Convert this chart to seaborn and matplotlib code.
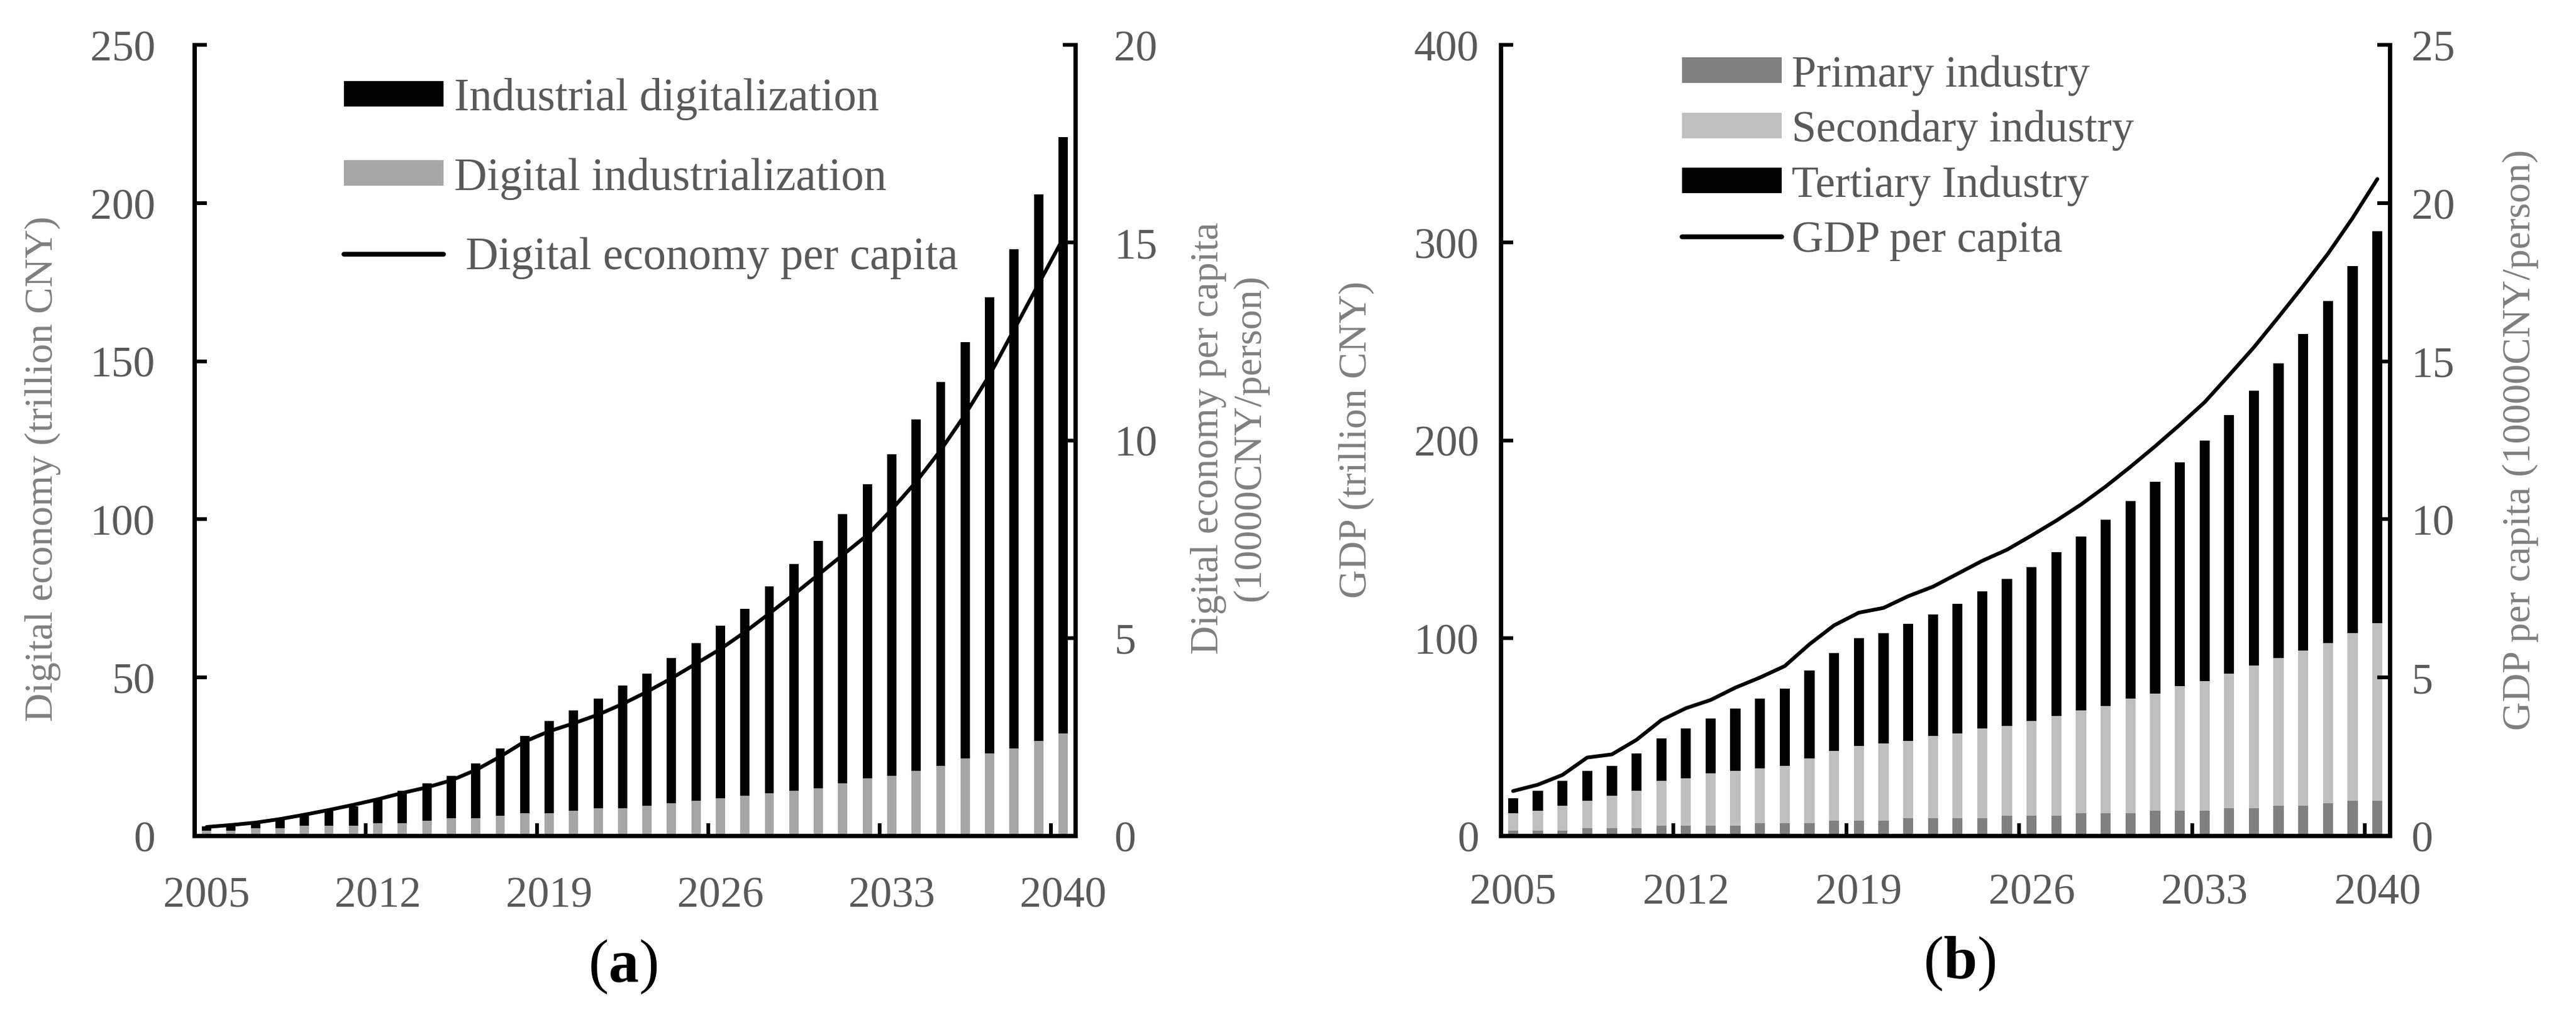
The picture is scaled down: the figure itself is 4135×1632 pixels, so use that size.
import numpy as np
import matplotlib.pyplot as plt
import seaborn as sns
from matplotlib.patches import Patch
from matplotlib.lines import Line2D
from matplotlib.ticker import FixedLocator

# Data
years = list(range(2005, 2041))

# (a) digital economy, trillion CNY
digital_industrialization = [1.5, 1.5, 2.3, 2.3, 3.1, 3.1, 3.1, 3.9, 3.9, 4.7, 5.5, 5.5,
                             6.3, 7.1, 7.1, 7.9, 8.7, 8.7, 9.5, 10.3, 11.1, 11.8, 12.6, 13.4,
                             14.2, 15.0, 16.6, 18.2, 18.9, 20.5, 22.1, 24.5, 26.1, 27.6, 30.0, 32.4]
industrial_digitalization = [1.5, 2.1, 2.0, 2.6, 3.2, 4.7, 6.1, 7.3, 10.2, 11.9, 13.4, 17.4,
                             21.3, 24.5, 29.2, 31.6, 34.7, 38.7, 41.8, 45.8, 49.8, 54.5, 59.2, 65.4,
                             71.6, 78.2, 85.0, 93.0, 101.6, 111.1, 121.4, 131.5, 144.1, 157.7, 172.8, 188.5]
# 10000 CNY / person
digital_per_capita = [0.22, 0.27, 0.33, 0.42, 0.53, 0.65, 0.78, 0.92, 1.08, 1.22, 1.40, 1.66,
                      2.00, 2.38, 2.64, 2.84, 3.06, 3.33, 3.64, 3.98, 4.35, 4.72, 5.15, 5.62,
                      6.10, 6.60, 7.10, 7.60, 8.25, 8.95, 9.75, 10.65, 11.65, 12.80, 13.95, 15.10]

# (b) GDP by industry, trillion CNY
primary = [2.6, 2.6, 2.6, 3.9, 3.9, 3.9, 5.1, 5.1, 5.1, 5.1, 6.3, 6.3,
           6.3, 7.6, 7.6, 7.6, 8.8, 8.8, 8.8, 8.8, 10.1, 10.1, 10.1, 11.4,
           11.4, 11.4, 12.6, 12.6, 12.6, 13.9, 13.9, 15.2, 15.2, 16.4, 17.7, 17.7]
secondary = [8.8, 10.0, 12.6, 13.8, 16.3, 18.8, 22.7, 24.0, 26.5, 27.7, 27.8, 29.1,
             32.9, 35.4, 37.9, 39.1, 39.2, 41.7, 43.0, 45.5, 45.5, 48.0, 50.5, 51.8,
             54.3, 58.1, 59.4, 63.2, 65.7, 68.2, 72.0, 74.5, 78.3, 81.0, 84.6, 89.7]
tertiary = [7.5, 10.0, 12.6, 15.1, 15.2, 19.0, 21.5, 25.2, 27.8, 31.6, 35.4, 39.1,
            44.2, 49.2, 54.3, 55.6, 59.2, 61.5, 65.4, 69.4, 74.4, 77.7, 82.8, 88.0,
            94.0, 99.7, 107.0, 113.1, 121.7, 130.7, 139.3, 149.3, 160.2, 173.0, 185.7, 198.3]
gdp_per_capita = [1.41, 1.61, 1.92, 2.47, 2.57, 3.03, 3.65, 4.03, 4.29, 4.68, 5.00, 5.36,
                  6.05, 6.65, 7.05, 7.20, 7.57, 7.87, 8.28, 8.69, 9.04, 9.49, 9.96, 10.47,
                  11.04, 11.66, 12.31, 12.99, 13.70, 14.56, 15.44, 16.40, 17.38, 18.40, 19.53, 20.76]

W, H = 4135, 1633
TICK_COLOR = "#595959"
LABEL_COLOR = "#7f7f7f"


def fx(x):
    return x / W


def fy(y):
    return 1 - y / H


sns.set_theme(style="white")
plt.rcParams["font.family"] = ["Liberation Serif", "DejaVu Serif"]
plt.rcParams["mathtext.fontset"] = "custom"
plt.rcParams["mathtext.rm"] = "Liberation Serif"
plt.rcParams["mathtext.bf"] = "Liberation Serif:bold"

fig = plt.figure(figsize=(W / 100, H / 100), dpi=100)
fig.patch.set_facecolor("white")

ax_a = fig.add_axes([fx(312), fy(1342), 1414 / W, 1269 / H])
ax_b = fig.add_axes([fx(2409), fy(1342), 1427 / W, 1269 / H])
ax_a2 = ax_a.twinx()
ax_b2 = ax_b.twinx()


def style_axes(ax, ax2, ymax_l, step_l, ymax_r, step_r, ypad, xpad):
    n = len(years)
    ax.set_xlim(-0.5, n - 0.5)
    ax.set_ylim(0, ymax_l)
    ax2.set_ylim(0, ymax_r)
    ax.set_yticks(np.arange(0, ymax_l + 1, step_l))
    ax2.set_yticks(np.arange(0, ymax_r + 1, step_r))
    ax.set_xticks(range(0, n, 7))
    ax.set_xticklabels([str(years[i]) for i in range(0, n, 7)])
    ax.xaxis.set_minor_locator(FixedLocator(np.arange(6.5, n - 1, 7)))
    ax.tick_params(axis="x", which="major", length=0, pad=xpad,
                   labelsize=50, labelcolor=TICK_COLOR)
    ax.tick_params(axis="x", which="minor", direction="in", length=14.5,
                   width=4.3, color="black", bottom=True)
    ax.tick_params(axis="y", which="major", direction="in", length=14.5, width=4.3,
                   color="black", pad=ypad, labelsize=50, labelcolor=TICK_COLOR,
                   left=True, right=False)
    ax2.tick_params(axis="y", which="major", direction="in", length=14.5, width=4.3,
                    color="black", pad=ypad, labelsize=50, labelcolor=TICK_COLOR,
                    right=True, left=False)
    for side in ["top", "right"]:
        ax.spines[side].set_visible(False)
    for side in ["top", "left", "bottom"]:
        ax2.spines[side].set_visible(False)
    for sp in [ax.spines["left"], ax.spines["bottom"], ax2.spines["right"]]:
        sp.set_linewidth(5)
        sp.set_color("black")
    ax.set_xlabel("")
    ax.set_ylabel("")
    ax2.set_ylabel("")


# Panel (a)
total_a = np.array(digital_industrialization) + np.array(industrial_digitalization)
sns.barplot(x=years, y=total_a, color="black", width=0.38, saturation=1,
            linewidth=0, errorbar=None, ax=ax_a)
sns.barplot(x=years, y=digital_industrialization, color="#a6a6a6", width=0.38,
            saturation=1, linewidth=0, errorbar=None, ax=ax_a)
sns.lineplot(x=np.arange(len(years)), y=digital_per_capita, color="black",
             linewidth=4.3, ax=ax_a2)
style_axes(ax_a, ax_a2, 250, 50, 20, 5, ypad=45, xpad=47)

handles_a = [Patch(facecolor="black", linewidth=0),
             Patch(facecolor="#a6a6a6", linewidth=0),
             Line2D([], [], color="black", linewidth=5.5)]
labels_a = ["Industrial digitalization", "Digital industrialization",
            " Digital economy per capita"]
ax_a2.legend(handles_a, labels_a, loc="upper left", bbox_to_anchor=(0.170, 0.959),
             frameon=False, fontsize=52.5, borderpad=0, borderaxespad=0,
             handlelength=2.19, handleheight=0.49, handletextpad=0.23,
             labelspacing=0.82, labelcolor=TICK_COLOR)

# Panel (b)
sec_top = np.array(primary) + np.array(secondary)
total_b = sec_top + np.array(tertiary)
sns.barplot(x=years, y=total_b, color="black", width=0.41, saturation=1,
            linewidth=0, errorbar=None, ax=ax_b)
sns.barplot(x=years, y=sec_top, color="#bfbfbf", width=0.41, saturation=1,
            linewidth=0, errorbar=None, ax=ax_b)
sns.barplot(x=years, y=primary, color="#808080", width=0.41, saturation=1,
            linewidth=0, errorbar=None, ax=ax_b)
sns.lineplot(x=np.arange(len(years)), y=gdp_per_capita, color="black",
             linewidth=4.3, ax=ax_b2)
style_axes(ax_b, ax_b2, 400, 100, 25, 5, ypad=25, xpad=43)

handles_b = [Patch(facecolor="#808080", linewidth=0),
             Patch(facecolor="#bfbfbf", linewidth=0),
             Patch(facecolor="black", linewidth=0),
             Line2D([], [], color="black", linewidth=5.5)]
labels_b = ["Primary industry", "Secondary industry", "Tertiary Industry", "GDP per capita"]
ax_b2.legend(handles_b, labels_b, loc="upper left", bbox_to_anchor=(0.204, 0.988),
             frameon=False, fontsize=51, borderpad=0, borderaxespad=0,
             handlelength=2.26, handleheight=0.51, handletextpad=0.23,
             labelspacing=0.325, labelcolor=TICK_COLOR)

# Axis titles
fig.text(fx(69), fy(752), "Digital economy (trillion CNY)", rotation=90,
         ha="center", va="center", fontsize=46, color=LABEL_COLOR)
fig.text(fx(1974), fy(703), "Digital economy per capita\n(10000CNY/person)",
         rotation=90, ha="center", va="center", multialignment="center",
         linespacing=1.2, fontsize=46, color=LABEL_COLOR)
fig.text(fx(2177), fy(706), "GDP (trillion CNY)", rotation=90,
         ha="center", va="center", fontsize=46, color=LABEL_COLOR)
fig.text(fx(4046), fy(706), "GDP per capita (10000CNY/person)", rotation=90,
         ha="center", va="center", fontsize=46, color=LABEL_COLOR)

# Panel tags
fig.text(fx(1000), fy(1552), r"($\mathbf{a}$)", ha="center", va="center",
         fontsize=70, color="black")
fig.text(fx(3145), fy(1547), r"($\mathbf{b}$)", ha="center", va="center",
         fontsize=70, color="black")

fig.savefig("out.png", dpi=100, facecolor="white")
